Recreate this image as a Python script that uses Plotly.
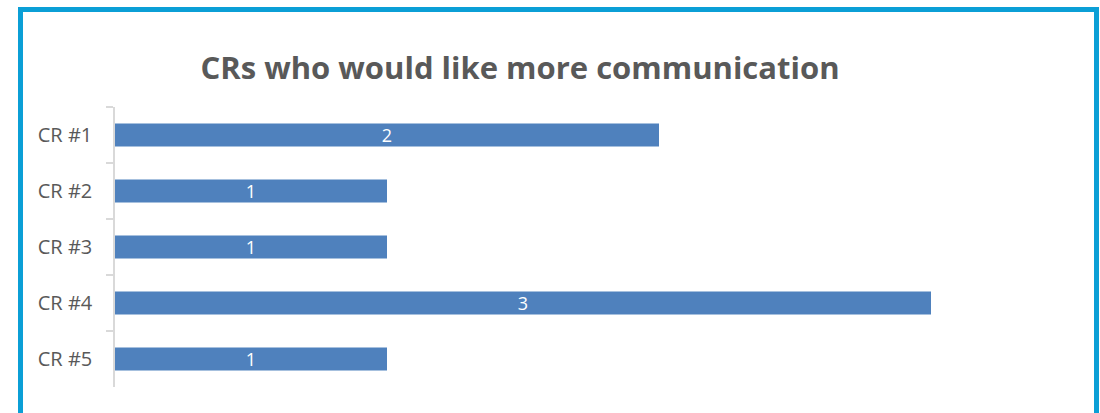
import plotly.graph_objects as go

categories = ["CR #1", "CR #2", "CR #3", "CR #4", "CR #5"]
values = [2, 1, 1, 3, 1]
title_text = "CRs who would like more communication"

W, H = 1100, 413
L, R_PX, T, B_PX = 115, 1067, 107, 387

fig = go.Figure(go.Bar(
    y=categories, x=values, orientation="h",
    marker=dict(color="#4f81bd", line=dict(width=0)),
    text=[str(v) for v in values], textposition="inside",
    insidetextanchor="middle", textangle=0, constraintext="none",
    textfont=dict(color="white", size=18, family="Open Sans"),
    width=0.41,
))

def px_x(p):
    return (p - L) / (R_PX - L)

def px_y(p):
    return (B_PX - p) / (B_PX - T)

fig.add_shape(type="rect", xref="paper", yref="paper",
              x0=px_x(20.5), x1=px_x(1096.5), y0=px_y(430), y1=px_y(9.5),
              line=dict(color="#0b9fd6", width=5), fillcolor="rgba(0,0,0,0)",
              layer="above")

fig.update_layout(
    width=W, height=H,
    margin=dict(l=L, r=W - R_PX, t=T, b=H - B_PX, pad=0),
    paper_bgcolor="white", plot_bgcolor="white",
    showlegend=False,
    title=dict(text="<b>" + title_text + "</b>", x=520 / W, xanchor="center",
               y=1 - 68 / H, yanchor="middle", yref="container",
               font=dict(family="Open Sans", size=31, color="#595959")),
    xaxis=dict(range=[0, 3.5], visible=False, fixedrange=True),
    yaxis=dict(autorange="reversed", showline=True, linecolor="#d9d9d9", linewidth=1.5,
               ticks="outside", tickson="boundaries", ticklen=7, tickcolor="#d9d9d9",
               tickwidth=1.5, showgrid=False, zeroline=False,
               ticklabelstandoff=17,
               tickfont=dict(family="Open Sans", size=20, color="#595959")),
)

fig.write_html("out.html")
